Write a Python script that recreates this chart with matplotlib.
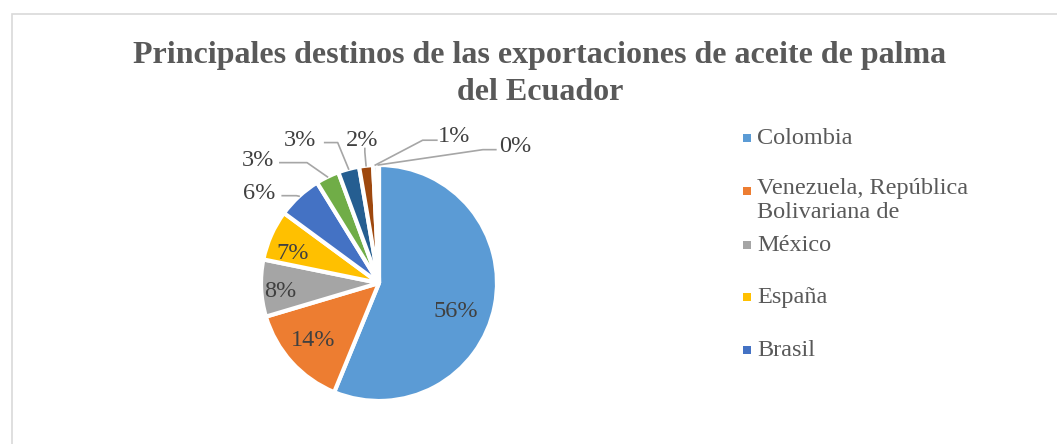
import matplotlib.pyplot as plt
from matplotlib.patches import Rectangle
import numpy as np

countries = ['Colombia', 'Venezuela, República\nBolivariana de', 'México', 'España', 'Brasil',
             'Otro 1', 'Otro 2', 'Otro 3', 'Otro 4', 'Otro 5']
shares = [56.2, 14.2, 7.8, 6.9, 6.1, 3.2, 2.9, 1.9, 0.6, 0.2]
colors = ['#5B9BD5', '#ED7D31', '#A5A5A5', '#FFC000', '#4472C4',
          '#70AD47', '#255E91', '#9E480E', '#636363', '#997300']
legend_count = 5

W, H = 1057, 444
fig = plt.figure(figsize=(W / 100, H / 100), dpi=100)

# chart border
fig.add_artist(Rectangle((12 / W, -0.05), 1.2, (H - 14) / H + 0.05,
                         transform=fig.transFigure, fill=False,
                         edgecolor='#D9D9D9', linewidth=1.2))

fig.text(540 / W, 1 - 74 / H, 'Principales destinos de las exportaciones de aceite de palma\ndel Ecuador',
         ha='center', va='center', fontsize=23, fontweight='bold',
         family='Liberation Serif', color='#595959', linespacing=1.35)

# pie axes: center (379, 283) px, radius 118 px
cx, cy, R = 379, 283, 118
side = 3 * R
ax = fig.add_axes([(cx - side / 2) / W, (H - cy - side / 2) / H, side / W, side / H])

wedges, _ = ax.pie(shares, colors=colors, startangle=90, counterclock=False,
                   radius=1.0, wedgeprops=dict(edgecolor='white', linewidth=3,
                                               joinstyle='bevel'))
ax.set_xlim(-1.5, 1.5)
ax.set_ylim(-1.5, 1.5)
ax.set_aspect('equal')
ax.axis('off')
for w in wedges:
    w.set_clip_on(False)

labels = [f'{v:.0f}%' for v in shares]
font = dict(family='Liberation Serif', fontsize=17.5, color='#404040')

# inner labels (data units, radius = 1)
inner_pos = [(0.65, -0.24), (-0.56, -0.49), (-0.84, -0.07), (-0.73, 0.25)]
for i, (x, y) in enumerate(inner_pos):
    ax.text(x, y, labels[i], ha='center', va='center', **font)

# outer labels: text position, alignment, leader start, elbow
outer = [
    ((-0.88, 0.76), 'right', (-0.82, 0.74), (-0.70, 0.74)),
    ((-0.89, 1.04), 'right', (-0.84, 1.02), (-0.61, 1.02)),
    ((-0.53, 1.21), 'right', (-0.46, 1.19), (-0.35, 1.19)),
    ((-0.14, 1.21), 'center', (-0.12, 1.14), (-0.12, 1.11)),
    ((0.50, 1.24), 'left', (0.49, 1.21), (0.37, 1.21)),
    ((1.02, 1.16), 'left', (0.99, 1.13), (0.88, 1.13)),
]
for k, (tpos, ha, start, elbow) in enumerate(outer):
    i = 4 + k
    w = wedges[i]
    mid = np.deg2rad((w.theta1 + w.theta2) / 2)
    px, py = np.cos(mid) * 1.0, np.sin(mid) * 1.0
    ax.text(tpos[0], tpos[1], labels[i], ha=ha, va='center', **font)
    ax.plot([start[0], elbow[0], px], [start[1], elbow[1], py],
            color='#A6A6A6', linewidth=1.2, clip_on=False)

# legend (first entries only, as in the source chart)
leg_y = [138, 191, 245, 297, 350]
for i in range(legend_count):
    y = leg_y[i]
    fig.add_artist(Rectangle((743 / W, 1 - (y + 4) / H), 8 / W, 8 / H,
                             transform=fig.transFigure, facecolor=colors[i],
                             edgecolor='none'))
    if '\n' in countries[i]:
        fig.text(757 / W, 1 - (y - 13) / H, countries[i], ha='left', va='top',
                 family='Liberation Serif', fontsize=17.5, color='#595959', linespacing=1.2)
    else:
        fig.text(757 / W, 1 - y / H, countries[i], ha='left', va='center',
                 family='Liberation Serif', fontsize=17.5, color='#595959')

fig.savefig('out.png', dpi=100)
